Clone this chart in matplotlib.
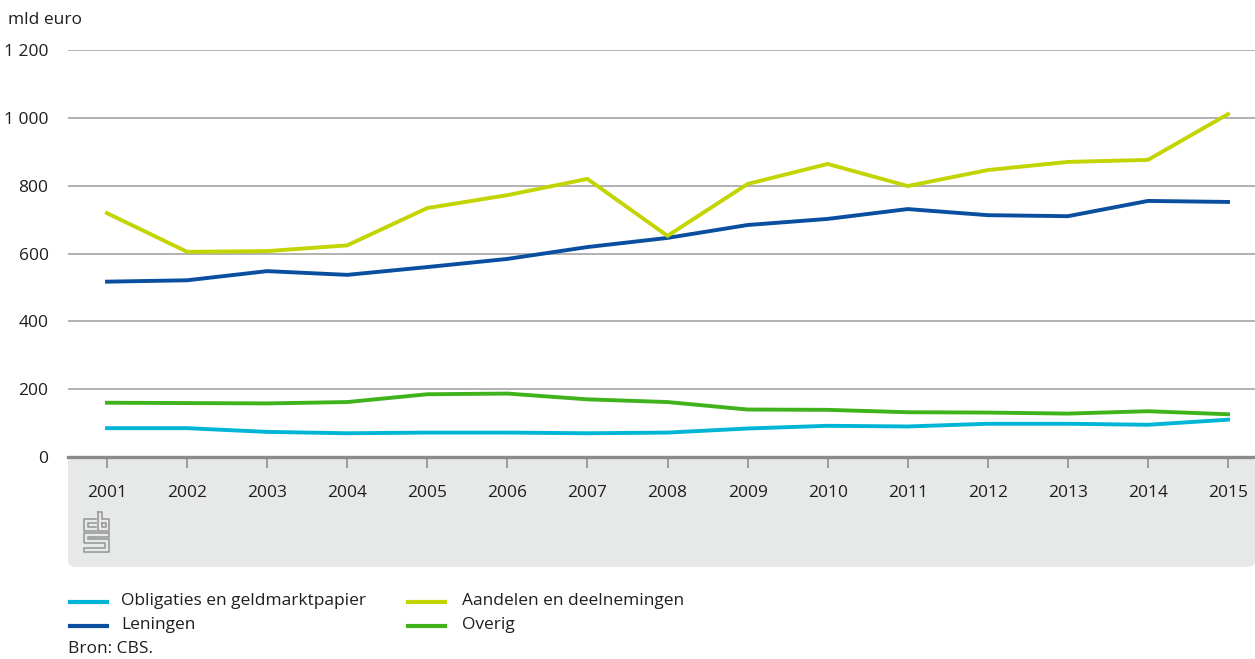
import matplotlib
matplotlib.use("Agg")
import matplotlib.pyplot as plt
from matplotlib.patches import FancyBboxPatch
from matplotlib.lines import Line2D
from matplotlib.ticker import FuncFormatter

plt.rcParams['font.family'] = ['Open Sans', 'DejaVu Sans']

years = list(range(2001, 2016))
obligaties = [85, 85, 74, 70, 72, 72, 70, 72, 84, 92, 90, 98, 98, 95, 110]
leningen = [517, 521, 548, 537, 560, 584, 619, 646, 684, 702, 731, 713, 710, 755, 752]
aandelen = [719, 605, 607, 624, 734, 772, 820, 652, 805, 864, 799, 846, 870, 876, 1011]
overig = [160, 159, 158, 162, 185, 187, 170, 162, 140, 139, 132, 131, 128, 135, 126]

series_names = ["Obligaties en geldmarktpapier", "Leningen", "Aandelen en deelnemingen", "Overig"]
colors = ["#00b5d6", "#0a4f9f", "#c2d500", "#3fb21c"]
yticks = [0, 200, 400, 600, 800, 1000, 1200]

W, H = 1255, 659
FS = 12.5
TXT = "#1e1e1e"
fig = plt.figure(figsize=(W / 100, H / 100), dpi=100)


def fx(x):
    return x / W


def fy(y):
    return 1 - y / H


# gray band under the axis
band = FancyBboxPatch((fx(68), fy(567)), fx(1255) - fx(68), fy(457) - fy(567),
                      boxstyle="round,pad=0,rounding_size=0.008",
                      transform=fig.transFigure, facecolor="#e7e8e8",
                      edgecolor="none", zorder=-5)
fig.patches.append(band)

ax = fig.add_axes([fx(68), fy(457), fx(1255) - fx(68), fy(50) - fy(457)])
ax.set_zorder(2)
ax.set_facecolor("none")
ax.set_xlim(2000.513, 2015.337)
ax.set_ylim(0, 1200)

ax.set_yticks(yticks)
ax.yaxis.set_major_formatter(FuncFormatter(lambda v, p: f"{int(v):,}".replace(",", " ")))
ax.grid(axis="y", color="#ababab", linewidth=1.3, zorder=1)
ax.tick_params(axis="y", length=0, pad=14, labelsize=FS, labelcolor=TXT)
ax.set_xticks(years)
ax.set_xticklabels([str(y) for y in years])
ax.tick_params(axis="x", length=8, width=1.1, color="#8a8a8a", pad=12,
               labelsize=FS, labelcolor=TXT, direction="out")
for s in ["top", "right", "left"]:
    ax.spines[s].set_visible(False)
ax.spines["bottom"].set_color("#8a8a8a")
ax.spines["bottom"].set_linewidth(2.4)
ax.spines["bottom"].set_zorder(5)

for vals, c in zip([overig, obligaties, leningen, aandelen],
                   [colors[3], colors[0], colors[1], colors[2]]):
    ax.plot(years, vals, color=c, linewidth=2.8, solid_joinstyle="miter", zorder=3)

fig.text(fx(8), fy(20), "mld euro", fontsize=FS, color=TXT, va="center", ha="left")

# CBS logo (simplified)
logo_paths = [
    [(96, 519), (84, 519), (84, 531), (96, 531)],
    [(96, 523), (88, 523), (88, 527), (96, 527)],
    [(98, 512), (98, 531), (109, 531), (109, 519), (102, 519), (102, 512), (98, 512)],
    [(102, 523), (106, 523), (106, 527), (102, 527), (102, 523)],
    [(109, 533), (84, 533), (84, 543), (105, 543), (105, 548), (84, 548), (84, 552),
     (109, 552), (109, 539), (88, 539), (88, 537), (109, 537), (109, 533)],
]
for path in logo_paths:
    xs = [fx(p[0]) for p in path]
    ys = [fy(p[1]) for p in path]
    fig.lines.append(Line2D(xs, ys, transform=fig.transFigure, color="#9a9a9a",
                            linewidth=1.2, zorder=2))

# legend
legend_items = [
    (70, 602, 121, series_names[0], colors[0]),
    (70, 626, 121, series_names[1], colors[1]),
    (408, 602, 462, series_names[2], colors[2]),
    (408, 626, 462, series_names[3], colors[3]),
]
for x0, y0, tx, label, c in legend_items:
    fig.lines.append(Line2D([fx(x0), fx(x0 + 37)], [fy(y0), fy(y0)],
                            transform=fig.transFigure, color=c, linewidth=3))
    fig.text(fx(tx), fy(y0 - 1), label, fontsize=FS, color=TXT,
             va="center", ha="left")

fig.text(fx(68), fy(649), "Bron: CBS.", fontsize=FS, color=TXT,
         va="center", ha="left")

fig.savefig("out.png", dpi=100)
